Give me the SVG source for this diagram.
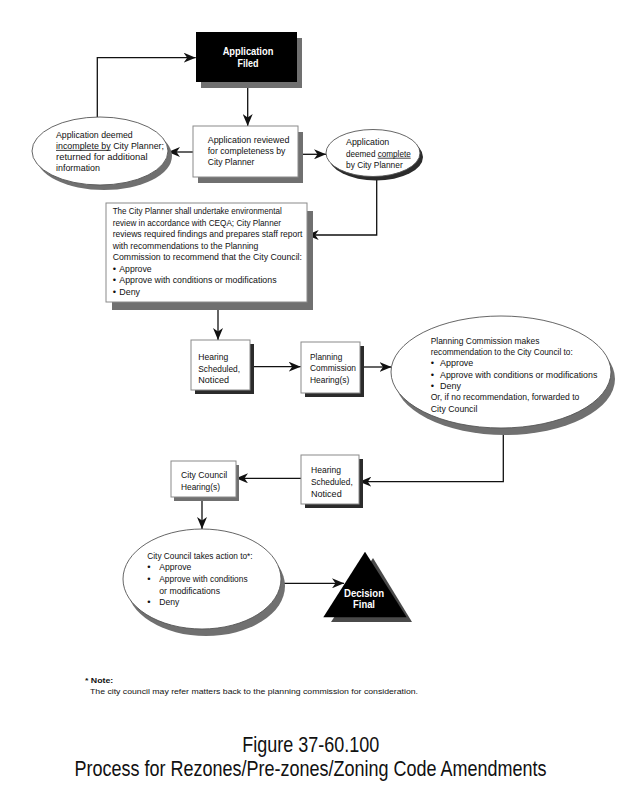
<svg xmlns="http://www.w3.org/2000/svg" width="638" height="803" viewBox="0 0 638 803">
<style>
.t{font-family:"Liberation Sans",Arial,sans-serif;font-size:9.4px;fill:#111}
.w{font-family:"Liberation Sans",Arial,sans-serif;font-size:10px;font-weight:bold;fill:#fff}
.box{fill:#fff;stroke:#8a8a8a;stroke-width:1}
.sh{fill:#707070}
.shd{fill:#2b2b2b}
.ell{fill:#fff;stroke:#555;stroke-width:0.9}
.ln{fill:none;stroke:#111;stroke-width:1.3}
.ul{stroke:#111;stroke-width:0.8}
.note{font-family:"Liberation Sans",Arial,sans-serif;font-size:8px;fill:#111}
.cap{font-family:"Liberation Sans",Arial,sans-serif;font-size:22.5px;fill:#111}
</style>
<defs>
<marker id="ah" viewBox="0 0 12 10" refX="12" refY="5" markerWidth="12" markerHeight="10" markerUnits="userSpaceOnUse" orient="auto">
<path d="M0,0 L12,5 L0,10 L3.5,5 z" fill="#111"/>
</marker>
</defs>
<rect width="638" height="803" fill="#fff"/>

<g id="connectors">
<path class="ln" d="M247.7,82.5 V126" marker-end="url(#ah)"/>
<path class="ln" d="M193,152 H168" marker-end="url(#ah)"/>
<path class="ln" d="M298,154.3 H326" marker-end="url(#ah)"/>
<path class="ln" d="M97.3,117 V57.7 H195.7" marker-end="url(#ah)"/>
<path class="ln" d="M376.7,176 V235 H306.7" marker-end="url(#ah)"/>
<path class="ln" d="M218,302 V340" marker-end="url(#ah)"/>
<path class="ln" d="M250,366.7 H300.7" marker-end="url(#ah)"/>
<path class="ln" d="M360,367 H391.5" marker-end="url(#ah)"/>
<path class="ln" d="M503.3,428 V481.7 H359.3" marker-end="url(#ah)"/>
<path class="ln" d="M301,478.3 H236" marker-end="url(#ah)"/>
<path class="ln" d="M202,497.3 V529" marker-end="url(#ah)"/>
<path class="ln" d="M281.7,583.3 H344" marker-end="url(#ah)"/>
</g>

<g id="app-filed">
<rect class="sh" x="201" y="38" width="101" height="50"/>
<rect x="196" y="32" width="101" height="50" fill="#000"/>
<text class="w" x="248" y="55" text-anchor="middle" textLength="50.7" lengthAdjust="spacingAndGlyphs">Application</text>
<text class="w" x="248" y="66.6" text-anchor="middle" textLength="21" lengthAdjust="spacingAndGlyphs">Filed</text>
</g>

<g id="app-reviewed">
<rect class="sh" x="198" y="132" width="105" height="51"/>
<rect class="box" x="193" y="126" width="105" height="51"/>
<text class="t" x="207.7" y="142.6" textLength="81.7" lengthAdjust="spacingAndGlyphs">Application reviewed</text>
<text class="t" x="207.7" y="154" textLength="77.7" lengthAdjust="spacingAndGlyphs">for completeness by</text>
<text class="t" x="207.7" y="165.2" textLength="46.7" lengthAdjust="spacingAndGlyphs">City Planner</text>
</g>

<g id="incomplete">
<ellipse class="sh" cx="104" cy="156" rx="68" ry="34"/>
<ellipse class="ell" cx="100" cy="151" rx="68" ry="34"/>
<text class="t" x="56" y="137.6" textLength="76.7" lengthAdjust="spacingAndGlyphs">Application deemed</text>
<text class="t" x="56" y="148.8" textLength="108" lengthAdjust="spacingAndGlyphs">incomplete by City Planner;</text>
<line class="ul" x1="56" y1="150.4" x2="110.7" y2="150.4"/>
<text class="t" x="56" y="160" textLength="91.7" lengthAdjust="spacingAndGlyphs">returned for additional</text>
<text class="t" x="56" y="171.2" textLength="44" lengthAdjust="spacingAndGlyphs">information</text>
</g>

<g id="complete">
<ellipse class="shd" cx="376" cy="157" rx="47" ry="23.5"/>
<ellipse class="ell" cx="373" cy="153" rx="47" ry="23.5"/>
<text class="t" x="346" y="145" textLength="43.3" lengthAdjust="spacingAndGlyphs">Application</text>
<text class="t" x="346" y="156.6" textLength="64.7" lengthAdjust="spacingAndGlyphs">deemed complete</text>
<line class="ul" x1="377.7" y1="158.2" x2="410.7" y2="158.2"/>
<text class="t" x="346" y="167.8" textLength="56.7" lengthAdjust="spacingAndGlyphs">by City Planner</text>
</g>

<g id="env-review">
<rect class="sh" x="112" y="211" width="201" height="99"/>
<rect class="box" x="106" y="203" width="201" height="99"/>
<text class="t" x="112.7" y="214" textLength="169" lengthAdjust="spacingAndGlyphs">The City Planner shall undertake environmental</text>
<text class="t" x="112.7" y="225.5" textLength="168.3" lengthAdjust="spacingAndGlyphs">review in accordance with CEQA;  City Planner</text>
<text class="t" x="112.7" y="237" textLength="189.7" lengthAdjust="spacingAndGlyphs">reviews required findings and prepares staff report</text>
<text class="t" x="112.7" y="248.5" textLength="145.7" lengthAdjust="spacingAndGlyphs">with recommendations to the Planning</text>
<text class="t" x="112.7" y="260" textLength="189.3" lengthAdjust="spacingAndGlyphs">Commission to recommend that the City Council:</text>
<text class="t" x="112.7" y="271.5">•</text>
<text class="t" x="119.3" y="271.5" textLength="32.3" lengthAdjust="spacingAndGlyphs">Approve</text>
<text class="t" x="112.7" y="283">•</text>
<text class="t" x="119.3" y="283" textLength="157.3" lengthAdjust="spacingAndGlyphs">Approve with conditions or modifications</text>
<text class="t" x="112.7" y="294.5">•</text>
<text class="t" x="119.3" y="294.5" textLength="20.7" lengthAdjust="spacingAndGlyphs">Deny</text>
</g>

<g id="hearing1">
<rect class="shd" x="195" y="344" width="59" height="50"/>
<rect class="box" x="191" y="340" width="59" height="50"/>
<text class="t" x="198.3" y="360" textLength="30" lengthAdjust="spacingAndGlyphs">Hearing</text>
<text class="t" x="198.3" y="371.5" textLength="41.7" lengthAdjust="spacingAndGlyphs">Scheduled,</text>
<text class="t" x="198.3" y="383" textLength="30.7" lengthAdjust="spacingAndGlyphs">Noticed</text>
</g>

<g id="pc-hearing">
<rect class="shd" x="305" y="346" width="59" height="51"/>
<rect class="box" x="301" y="342" width="59" height="51"/>
<text class="t" x="310" y="359.5" textLength="32.3" lengthAdjust="spacingAndGlyphs">Planning</text>
<text class="t" x="310" y="371" textLength="46" lengthAdjust="spacingAndGlyphs">Commission</text>
<text class="t" x="310" y="382.5" textLength="39.3" lengthAdjust="spacingAndGlyphs">Hearing(s)</text>
</g>

<g id="pc-recommend">
<ellipse class="sh" cx="505" cy="379" rx="110" ry="56"/>
<ellipse class="ell" cx="501" cy="372" rx="110" ry="56"/>
<text class="t" x="430.7" y="343.5" textLength="108.7" lengthAdjust="spacingAndGlyphs">Planning Commission makes</text>
<text class="t" x="430.7" y="355" textLength="142" lengthAdjust="spacingAndGlyphs">recommendation to the City Council to:</text>
<text class="t" x="430.7" y="366.3">•</text>
<text class="t" x="440" y="366.3" textLength="33.3" lengthAdjust="spacingAndGlyphs">Approve</text>
<text class="t" x="430.7" y="377.7">•</text>
<text class="t" x="440" y="377.7" textLength="157.3" lengthAdjust="spacingAndGlyphs">Approve with conditions or modifications</text>
<text class="t" x="430.7" y="389">•</text>
<text class="t" x="440" y="389" textLength="21" lengthAdjust="spacingAndGlyphs">Deny</text>
<text class="t" x="430.7" y="400.4" textLength="148.7" lengthAdjust="spacingAndGlyphs">Or, if no recommendation, forwarded to</text>
<text class="t" x="430.7" y="411.8" textLength="46.7" lengthAdjust="spacingAndGlyphs">City Council</text>
</g>

<g id="hearing2">
<rect class="shd" x="305" y="459" width="58" height="49"/>
<rect class="box" x="301" y="455" width="58" height="49"/>
<text class="t" x="311" y="473.3" textLength="30" lengthAdjust="spacingAndGlyphs">Hearing</text>
<text class="t" x="311" y="485" textLength="41.7" lengthAdjust="spacingAndGlyphs">Scheduled,</text>
<text class="t" x="311" y="496.6" textLength="30.7" lengthAdjust="spacingAndGlyphs">Noticed</text>
</g>

<g id="cc-hearing">
<rect class="sh" x="174" y="465" width="65" height="36"/>
<rect class="box" x="171" y="461" width="65" height="36"/>
<text class="t" x="181" y="478.3" textLength="46.3" lengthAdjust="spacingAndGlyphs">City Council</text>
<text class="t" x="181" y="490" textLength="39" lengthAdjust="spacingAndGlyphs">Hearing(s)</text>
</g>

<g id="cc-action">
<ellipse class="sh" cx="206" cy="586" rx="79" ry="50"/>
<ellipse class="ell" cx="202" cy="579" rx="79" ry="50"/>
<text class="t" x="147.3" y="558.8" textLength="105.3" lengthAdjust="spacingAndGlyphs">City Council takes action to*:</text>
<text class="t" x="147.3" y="570.3">•</text>
<text class="t" x="159.3" y="570.3" textLength="32" lengthAdjust="spacingAndGlyphs">Approve</text>
<text class="t" x="147.3" y="582">•</text>
<text class="t" x="159.3" y="582" textLength="88.3" lengthAdjust="spacingAndGlyphs">Approve with conditions</text>
<text class="t" x="159.3" y="593.7" textLength="60.7" lengthAdjust="spacingAndGlyphs">or modifications</text>
<text class="t" x="147.3" y="605.3">•</text>
<text class="t" x="159.3" y="605.3" textLength="20" lengthAdjust="spacingAndGlyphs">Deny</text>
</g>

<g id="decision-final">
<polygon points="373,558 412,622 331,622" fill="#4a4a4a"/>
<polygon points="365,551.7 406.7,617.3 323.3,617.3" fill="#000"/>
<text class="w" x="364" y="596.6" text-anchor="middle" textLength="40" lengthAdjust="spacingAndGlyphs">Decision</text>
<text class="w" x="364" y="608.3" text-anchor="middle" textLength="22" lengthAdjust="spacingAndGlyphs">Final</text>
</g>

<g id="note">
<text class="note" x="85" y="683" font-weight="bold" textLength="28.3" lengthAdjust="spacingAndGlyphs">* Note:</text>
<text class="note" x="90" y="694" textLength="328" lengthAdjust="spacingAndGlyphs">The city council may refer matters back to the planning commission for consideration.</text>
</g>

<g id="caption">
<text class="cap" transform="translate(310.8,751.5) scale(0.8,1)" x="0" y="0" text-anchor="middle">Figure 37-60.100</text>
<text class="cap" transform="translate(310.5,775.5) scale(0.8,1)" x="0" y="0" text-anchor="middle">Process for Rezones/Pre-zones/Zoning Code Amendments</text>
</g>
</svg>
